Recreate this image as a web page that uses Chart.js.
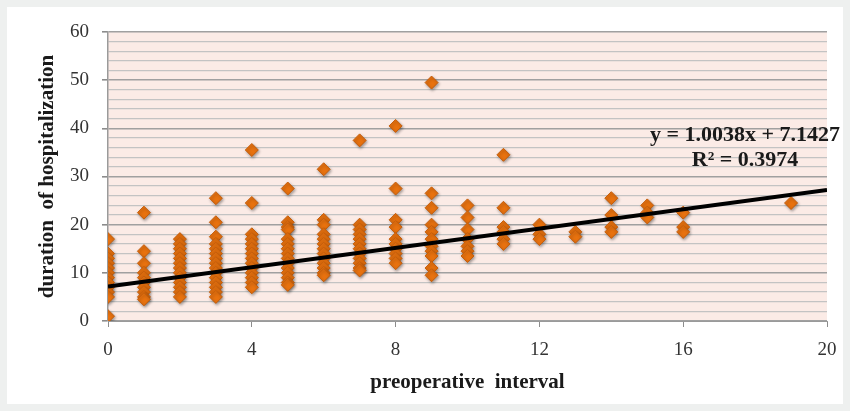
<!DOCTYPE html>
<html>
<head>
<meta charset="utf-8">
<script src="https://cdn.jsdelivr.net/npm/chart.js@4/dist/chart.umd.min.js"></script>
<style>
  html, body { margin: 0; padding: 0; background: #eef0ef; }
  #panel { position: absolute; left: 7px; top: 7px; width: 836px; height: 397px; background: #fff; }
</style>
</head>
<body>
<div id="panel"><canvas id="scatterChart" width="836" height="397"></canvas></div>
<script>
// preoperative interval (days) for each column of points
var intervals = [0, 1, 2, 3, 4, 5, 6, 7, 8, 9, 10, 11, 12, 13, 14, 15, 16, 19];

// duration of hospitalization, one list per interval above
var durations = [
  [17, 14, 13, 12, 11, 10, 9, 8, 7, 6, 5, 1],
  [22.5, 14.5, 12, 10, 9, 8, 7, 6, 5, 4.5],
  [17, 16, 15, 14, 13, 12, 11, 10, 9, 8, 7, 6, 5],
  [25.5, 20.5, 17.5, 16, 15, 14, 13, 12, 11, 10, 9, 8, 7, 6, 5],
  [35.5, 24.5, 18, 17, 16, 15, 14, 13, 12, 11, 10, 9, 8, 7],
  [27.5, 20.5, 19.5, 19, 17, 16, 15, 14, 13, 12, 11, 10, 9, 8, 7.5],
  [31.5, 21, 20, 18, 17, 16, 15, 14, 13, 12, 11, 10, 9.5],
  [37.5, 20, 19, 18, 17, 16, 15, 14, 13, 12, 11, 10.5],
  [40.5, 27.5, 21, 19.5, 17, 16, 15, 14, 13, 12],
  [49.5, 26.5, 23.5, 20, 18.5, 17, 15.5, 14.5, 13.5, 11, 9.5],
  [24, 21.5, 19, 17, 15.5, 14.5, 13.5],
  [34.5, 23.5, 19.5, 18.5, 17, 16],
  [20, 18, 17],
  [18.5, 17.5],
  [25.5, 22, 19.5, 18.5],
  [24, 22.5, 21.5],
  [22.5, 19.5, 18.5],
  [24.5]
];

// linear trend shown on the chart
var trendSlope = 1.0038;
var trendIntercept = 7.1427;
var trendRange = [0, 20];

var xTicks = [0, 4, 8, 12, 16, 20];
var yTicks = [0, 2, 4, 6, 8, 10, 12, 14, 16, 18, 20, 22, 24, 26, 28, 30,
              32, 34, 36, 38, 40, 42, 44, 46, 48, 50, 52, 54, 56, 58, 60];

var points = [];
for (var i = 0; i < intervals.length; i++) {
  for (var j = 0; j < durations[i].length; j++) {
    points.push({ x: intervals[i], y: durations[i][j] });
  }
}

var trendPoints = trendRange.map(function (x) {
  return { x: x, y: trendSlope * x + trendIntercept };
});

var serif = "'Liberation Serif', 'Times New Roman', serif";

// pink background behind the plot
var plotBackground = {
  id: 'plotBackground',
  beforeDraw: function (chart) {
    var a = chart.chartArea, c = chart.ctx;
    c.save();
    c.fillStyle = '#fbebe6';
    c.fillRect(a.left, a.top, a.right - a.left, a.bottom - a.top);
    c.restore();
  }
};

// soft shadow under the diamonds
var markerShadow = {
  id: 'markerShadow',
  beforeDatasetDraw: function (chart, args) {
    if (args.index !== 0) return;
    var c = chart.ctx;
    c.save();
    c.shadowColor = 'rgba(0,0,0,0.35)';
    c.shadowBlur = 3;
    c.shadowOffsetX = 1;
    c.shadowOffsetY = 1.5;
  },
  afterDatasetDraw: function (chart, args) {
    if (args.index !== 0) return;
    chart.ctx.restore();
  }
};

// equation and R² label
var trendLabel = {
  id: 'trendLabel',
  afterDraw: function (chart) {
    var c = chart.ctx;
    c.save();
    c.fillStyle = '#1a1a1a';
    c.font = 'bold 22px ' + serif;
    c.textAlign = 'center';
    c.textBaseline = 'middle';
    c.fillText('y = 1.0038x + 7.1427', 738, 128);
    c.fillText('R\u00b2 = 0.3974', 738, 153);
    c.restore();
  }
};

var ctx = document.getElementById('scatterChart');
var myChart = new Chart(ctx, {
  type: 'scatter',
  data: {
    datasets: [
      {
        label: 'duration',
        data: points,
        order: 1,
        pointStyle: 'rectRot',
        pointRadius: 6.5,
        pointBackgroundColor: '#e8720f',
        pointBorderColor: '#c55e0c',
        pointBorderWidth: 1
      },
      {
        label: 'trend',
        data: trendPoints,
        order: 0,
        showLine: true,
        pointRadius: 0,
        borderColor: '#000',
        borderWidth: 4
      }
    ]
  },
  plugins: [plotBackground, markerShadow, trendLabel],
  options: {
    responsive: false,
    animation: false,
    events: [],
    layout: { padding: { top: 25, right: 16, left: 0, bottom: 0 } },
    plugins: { legend: { display: false }, tooltip: { enabled: false } },
    scales: {
      x: {
        type: 'linear',
        min: 0,
        max: 20,
        afterBuildTicks: function (scale) {
          scale.ticks = xTicks.map(function (v) { return { value: v }; });
        },
        afterFit: function (scale) {
          scale.height = 83;
          scale.paddingLeft = 0;
          scale.paddingRight = 0;
        },
        grid: { drawOnChartArea: false, tickLength: 6, tickColor: '#8c8c8c' },
        border: { color: '#9a9a9a', width: 1 },
        ticks: { color: '#333', padding: 12, autoSkip: false, maxRotation: 0, font: { family: serif, size: 19 } },
        title: {
          display: true,
          text: 'preoperative  interval',
          color: '#1a1a1a',
          font: { family: serif, size: 21, weight: 'bold' },
          padding: { top: 0, bottom: 9 }
        }
      },
      y: {
        min: 0,
        max: 60,
        afterBuildTicks: function (scale) {
          scale.ticks = yTicks.map(function (v) { return { value: v }; });
        },
        afterFit: function (scale) {
          scale.width = 101;
          scale.paddingTop = 0;
          scale.paddingBottom = 0;
        },
        ticks: {
          color: '#333',
          padding: 13,
          autoSkip: false,
          font: { family: serif, size: 19 },
          callback: function (v) { return v % 10 === 0 ? v : ''; }
        },
        grid: {
          tickLength: 6,
          color: function (c) { return c.tick && c.tick.value % 10 === 0 ? '#a0a0a0' : '#c3c3c3'; },
          lineWidth: function (c) { return c.tick && c.tick.value % 10 === 0 ? 1.6 : 1.3; },
          tickColor: function (c) { return c.tick && c.tick.value % 10 === 0 ? '#8c8c8c' : 'rgba(0,0,0,0)'; }
        },
        border: { color: '#9a9a9a', width: 1.5 },
        title: {
          display: true,
          text: 'duration  of hospitalization',
          color: '#1a1a1a',
          font: { family: serif, size: 21, weight: 'bold' },
          padding: { top: 28, bottom: 0 }
        }
      }
    }
  }
});
</script>
</body>
</html>
